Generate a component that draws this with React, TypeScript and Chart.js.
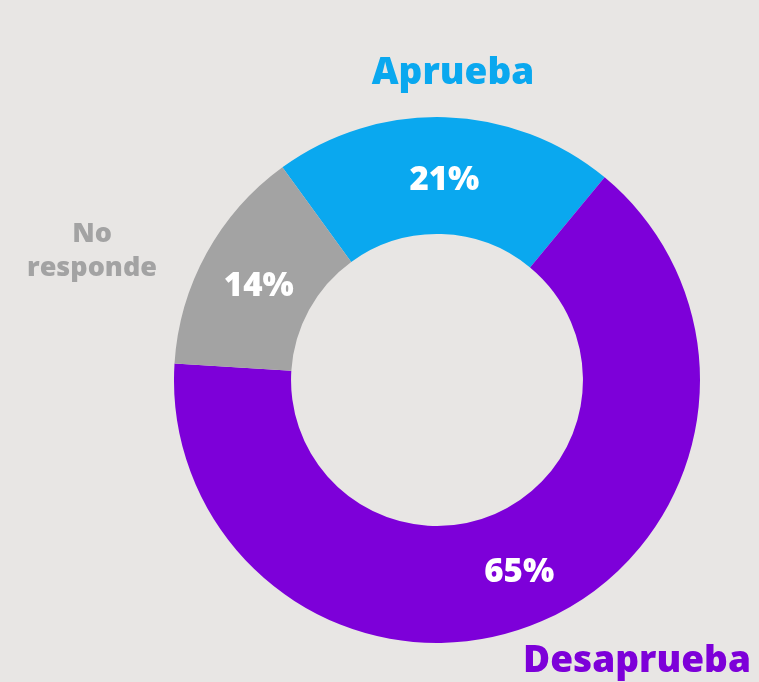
import React, { useEffect, useRef } from "react";
import { Chart, registerables } from "chart.js";

Chart.register(...registerables);

const categories = ["Aprueba", "Desaprueba", "No responde"];
const values = [21, 65, 14];
const percentLabels = ["21%", "65%", "14%"];
const colors = ["#0aa8ef", "#7d00d9", "#a3a3a3"];
const BG = "#e8e6e4";
const FONT = "'Open Sans', 'DejaVu Sans', sans-serif";

const labelsPlugin = {
  id: "donutLabels",
  beforeDraw(chart: any) {
    const { ctx, width, height } = chart;
    ctx.save();
    ctx.fillStyle = BG;
    ctx.fillRect(0, 0, width, height);
    ctx.restore();
  },
  afterDatasetsDraw(chart: any) {
    const { ctx } = chart;
    const meta = chart.getDatasetMeta(0);
    ctx.save();
    ctx.textAlign = "center";
    ctx.textBaseline = "middle";
    ctx.fillStyle = "#ffffff";
    ctx.font = `800 33px ${FONT}`;
    meta.data.forEach((arc: any, i: number) => {
      const p = arc.tooltipPosition();
      ctx.fillText(percentLabels[i], p.x + 1, p.y + 5);
    });
    // outer category labels
    const cx = (chart.chartArea.left + chart.chartArea.right) / 2;
    const cy = (chart.chartArea.top + chart.chartArea.bottom) / 2;
    ctx.font = `800 37px ${FONT}`;
    ctx.fillStyle = colors[0];
    ctx.fillText(categories[0], cx + 16, cy - 307);
    ctx.fillStyle = colors[1];
    ctx.fillText(categories[1], cx + 200, cy + 281);
    ctx.fillStyle = colors[2];
    ctx.font = `800 27px ${FONT}`;
    ctx.fillText("No", cx - 345, cy - 146);
    ctx.fillText("responde", cx - 345, cy - 112);
    ctx.restore();
  },
};

export default function App() {
  const ref = useRef<HTMLCanvasElement>(null);
  useEffect(() => {
    document.body.style.margin = "0";
    document.body.style.background = BG;
    const chart = new Chart(ref.current!, {
      type: "doughnut",
      data: {
        labels: categories,
        datasets: [
          {
            data: values,
            backgroundColor: colors,
            borderWidth: 0,
          },
        ],
      },
      options: {
        responsive: false,
        animation: false,
        rotation: -36,
        cutout: "55.5%",
        layout: { padding: { left: 174, right: 59, top: 117, bottom: 39 } },
        plugins: { legend: { display: false }, tooltip: { enabled: false } },
      },
      plugins: [labelsPlugin],
    });
    return () => chart.destroy();
  }, []);
  return <canvas ref={ref} width={759} height={682} style={{ display: "block" }} />;
}
